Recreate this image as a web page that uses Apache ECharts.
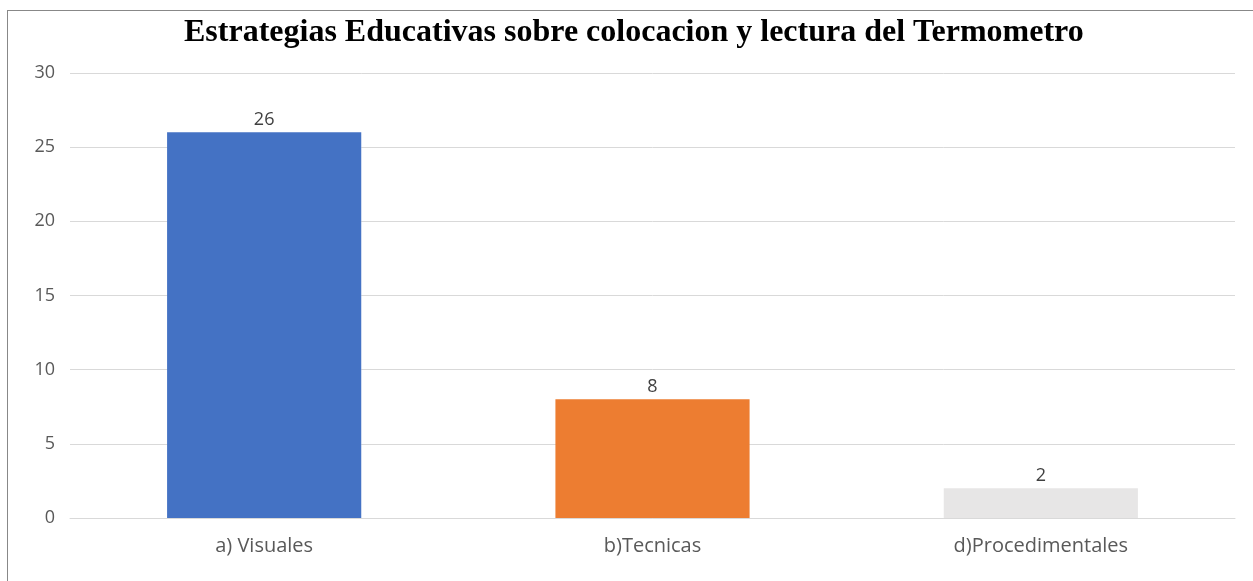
<!DOCTYPE html>
<html><head><meta charset="utf-8">
<script src="https://cdn.jsdelivr.net/npm/echarts@6/dist/echarts.min.js"></script>
<style>
html,body{margin:0;padding:0;background:#fff;overflow:hidden}
#frame{position:absolute;left:7px;top:10px;width:1260px;height:600px;border:1.5px solid #888;box-sizing:border-box}
#c{position:absolute;left:0;top:0;width:1253px;height:581px}
</style></head><body>
<div id="frame"></div>
<div id="c"></div>
<script>
const categories = ['a) Visuales', 'b)Tecnicas', 'd)Procedimentales'];
const values = [26, 8, 2];
const barColors = ['#4472C4', '#ED7D31', '#E7E6E6'];
const titleText = 'Estrategias Educativas sobre colocacion y lectura del Termometro';

const chart = echarts.init(document.getElementById('c'), null, {renderer: 'canvas'});
chart.setOption({
  animation: false,
  backgroundColor: 'transparent',
  title: {
    text: titleText, left: 179, top: 12,
    textStyle: {fontFamily: 'Liberation Serif', fontWeight: 'bold', fontSize: 32, color: '#000'}
  },
  grid: {left: 70, right: 18, top: 73, bottom: 63, containLabel: false},
  xAxis: {
    type: 'category', data: categories,
    axisLine: {lineStyle: {color: '#d9d9d9', width: 1}},
    axisTick: {show: false},
    axisLabel: {color: '#595959', fontSize: 20, fontFamily: 'Open Sans', margin: 18}
  },
  yAxis: {
    type: 'value', min: 0, max: 30, interval: 5,
    axisLine: {show: false}, axisTick: {show: false},
    splitLine: {lineStyle: {color: '#d9d9d9', width: 1}},
    axisLabel: {color: '#595959', fontSize: 18, fontFamily: 'Open Sans', margin: 15}
  },
  series: [{
    type: 'bar', barWidth: '50%',
    data: values.map((v, i) => ({value: v, itemStyle: {color: barColors[i]}})),
    label: {show: true, position: 'top', color: '#404040', fontSize: 18, fontFamily: 'Open Sans', distance: 3}
  }]
});
</script>
</body></html>
